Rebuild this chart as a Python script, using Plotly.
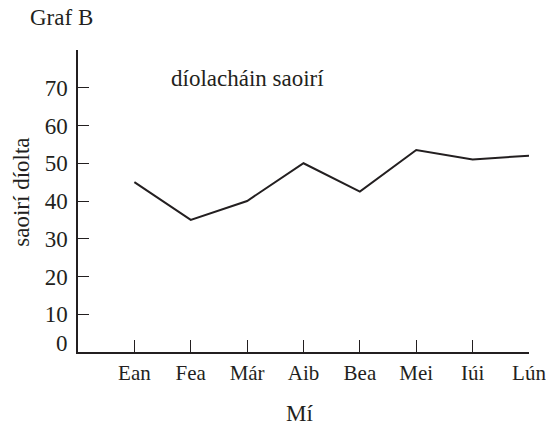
import plotly.graph_objects as go

months = ["Ean", "Fea", "Már", "Aib", "Bea", "Mei", "Iúi", "Lún"]
sales = [45, 35, 40, 50, 42.5, 53.5, 51, 52]
y_ticks = [10, 20, 30, 40, 50, 60, 70]

FONT = "Liberation Serif"
INK = "#231f20"
FS = 23

fig = go.Figure()
fig.add_trace(go.Scatter(
    x=list(range(len(months))), y=sales, mode="lines",
    line=dict(color=INK, width=2), hoverinfo="skip", showlegend=False,
))

fig.update_layout(
    width=546, height=432,
    margin=dict(l=78, r=17, t=50, b=80, autoexpand=False),
    paper_bgcolor="white", plot_bgcolor="white",
    font=dict(family=FONT, size=FS, color=INK),
    xaxis=dict(
        range=[-1, 7], tickmode="array", tickvals=list(range(len(months))),
        ticktext=months, ticks="inside", ticklen=12, tickwidth=1, tickcolor=INK,
        showline=True, linecolor=INK, linewidth=1.5, showgrid=False, zeroline=False,
        tickfont=dict(family=FONT, size=21), ticklabelstandoff=1,
        ticklabeloverflow="allow", automargin=False,
    ),
    yaxis=dict(
        range=[0, 80], tickmode="array", tickvals=y_ticks,
        ticks="inside", ticklen=11, tickwidth=1, tickcolor=INK,
        showline=True, linecolor=INK, linewidth=1.5, showgrid=False, zeroline=False,
        tickfont=dict(family=FONT, size=FS), ticklabelstandoff=4, automargin=False,
    ),
    annotations=[
        dict(text="Graf B", xref="paper", yref="paper", x=-0.111, y=1.109,
             xanchor="left", yanchor="middle", showarrow=False, font=dict(family=FONT, size=FS)),
        dict(text="díolacháin saoirí", xref="x", yref="y", x=0.61, y=72.4,
             xanchor="left", yanchor="middle", showarrow=False, font=dict(family=FONT, size=FS)),
        dict(text="0", xref="paper", yref="y", x=0, y=0, xanchor="right",
             xshift=-8, yshift=9, yanchor="middle", showarrow=False, font=dict(family=FONT, size=FS)),
        dict(text="saoirí díolta", xref="paper", yref="paper", x=-0.126, y=0.528,
             xanchor="center", yanchor="middle", textangle=-90, showarrow=False,
             font=dict(family=FONT, size=FS)),
        dict(text="Mí", xref="paper", yref="paper", x=0.492, y=-0.205,
             xanchor="center", yanchor="middle", showarrow=False, font=dict(family=FONT, size=FS)),
    ],
)

fig.write_html("out.html", config={"displayModeBar": False},
               post_script="document.body.style.margin='0';")
